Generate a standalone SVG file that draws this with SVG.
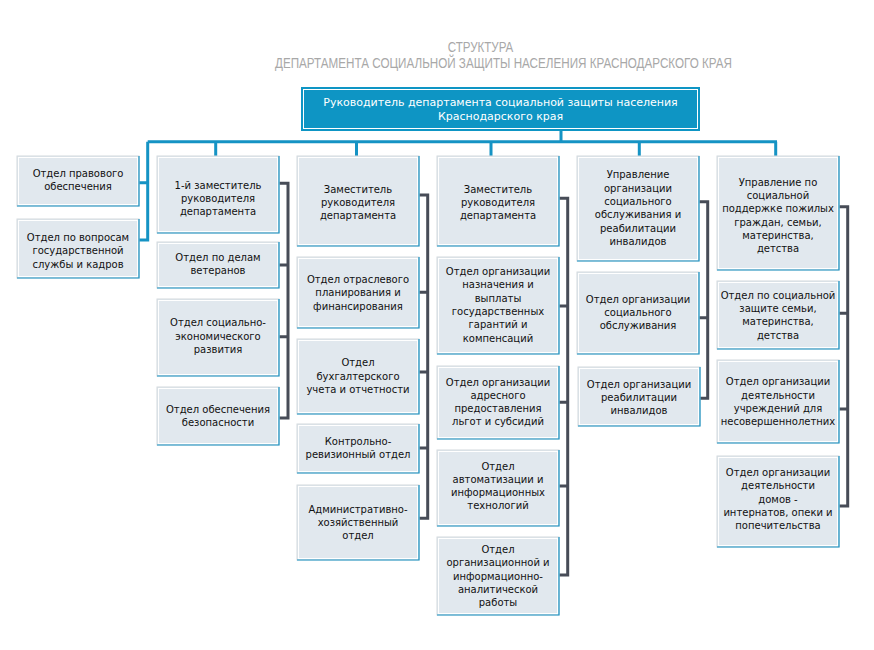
<svg xmlns="http://www.w3.org/2000/svg" width="874" height="650" viewBox="0 0 874 650">
<style>
.bg{fill:#ffffff}
.box{fill:#e1e8ee;stroke:#d3d9de;stroke-width:1}
.inner{fill:none;stroke:#ffffff;stroke-width:1}
.edge{fill:none;stroke:#1a93c4;stroke-width:1.2}
.t{font-family:"DejaVu Sans",Verdana,sans-serif;font-size:10px;fill:#111111;text-anchor:middle}
.top{fill:#0e95c4}
.topin{fill:none;stroke:#ffffff;stroke-width:1}
.tt{font-family:"DejaVu Sans",Verdana,sans-serif;font-size:11px;fill:#ffffff;text-anchor:middle}
.title{font-family:"Liberation Sans",Arial,sans-serif;fill:#a8a8a8;text-anchor:middle}
.blue{fill:none;stroke:#1593c4;stroke-width:3}
.dark{fill:none;stroke:#474c57;stroke-width:3}
</style>
<defs>
<g id="b"></g>
</defs>
<rect class="bg" x="0" y="0" width="874" height="650"/>
<g id="title">
<text class="title" x="480.5" y="51.7" font-size="14" textLength="65.6" lengthAdjust="spacingAndGlyphs">СТРУКТУРА</text>
<text class="title" x="503.5" y="68.3" font-size="15.5" textLength="457" lengthAdjust="spacingAndGlyphs">ДЕПАРТАМЕНТА СОЦИАЛЬНОЙ ЗАЩИТЫ НАСЕЛЕНИЯ КРАСНОДАРСКОГО КРАЯ</text>
</g>
<g id="connectors">
<path class="blue" d="M561,131 V141.7 M147.7,141.7 H777 M215.7,141.7 V156 M356.5,141.7 V156 M491,141.7 V156 M639.3,141.7 V156 M775.7,141.7 V156 M147.7,141.7 V240 H139 M147.7,182.7 H139"/>
<path class="dark" d="M279.3,183.3 H288 V418 H279.3 M279.3,265 H288 M279.3,336.7 H288"/>
<path class="dark" d="M419.3,195 H427.7 V518.3 H419.3 M419.3,292.3 H427.7 M419.3,372 H427.7 M419.3,448 H427.7"/>
<path class="dark" d="M559.3,198.3 H567.7 V575 H559.3 M559.3,306 H567.7 M559.3,402.3 H567.7 M559.3,486 H567.7"/>
<path class="dark" d="M699.3,201.7 H707.7 V398.3 H700 M699.3,317.7 H707.7"/>
<path class="dark" d="M839.3,206.7 H847.7 V506 H839.3 M839.3,313.3 H847.7 M839.3,409 H847.7"/>
</g>
<g id="head">
<rect class="top" x="301" y="87" width="399" height="44"/>
<rect class="topin" x="303.5" y="89.5" width="394" height="39"/>
<text class="tt" x="500.5" y="105.5">Руководитель департамента социальной защиты населения</text>
<text class="tt" x="500.5" y="119.8">Краснодарского края</text>
</g>
<g id="n-legal">
<rect class="box" x="17" y="156" width="122" height="50"/><rect class="inner" x="18.5" y="157.5" width="119" height="47"/><path class="edge" d="M139,156 V206 H17"/>
<text class="t" y="176.9"><tspan x="78">Отдел правового</tspan><tspan x="78" dy="13.3">обеспечения</tspan></text>
</g>
<g id="n-staff">
<rect class="box" x="17" y="219" width="122" height="59"/><rect class="inner" x="18.5" y="220.5" width="119" height="56"/><path class="edge" d="M139,219 V278 H17"/>
<text class="t" y="240.9"><tspan x="78">Отдел по вопросам</tspan><tspan x="78" dy="13.3">государственной</tspan><tspan x="78" dy="13.3">службы и кадров</tspan></text>
</g>
<g id="c1-head">
<rect class="box" x="157" y="156" width="122" height="77"/><rect class="inner" x="158.5" y="157.5" width="119" height="74"/><path class="edge" d="M279,156 V233 H157"/>
<text class="t" y="188.5"><tspan x="218">1-й заместитель</tspan><tspan x="218" dy="13.3">руководителя</tspan><tspan x="218" dy="13.3">департамента</tspan></text>
</g>
<g id="c1-veterans">
<rect class="box" x="157" y="242" width="122" height="46"/><rect class="inner" x="158.5" y="243.5" width="119" height="43"/><path class="edge" d="M279,242 V288 H157"/>
<text class="t" y="260.9"><tspan x="218">Отдел по делам</tspan><tspan x="218" dy="13.3">ветеранов</tspan></text>
</g>
<g id="c1-econ">
<rect class="box" x="157" y="299" width="122" height="77"/><rect class="inner" x="158.5" y="300.5" width="119" height="74"/><path class="edge" d="M279,299 V376 H157"/>
<text class="t" y="326.2"><tspan x="218">Отдел социально-</tspan><tspan x="218" dy="13.3">экономического</tspan><tspan x="218" dy="13.3">развития</tspan></text>
</g>
<g id="c1-security">
<rect class="box" x="157" y="387" width="122" height="58"/><rect class="inner" x="158.5" y="388.5" width="119" height="55"/><path class="edge" d="M279,387 V445 H157"/>
<text class="t" y="412.6"><tspan x="218">Отдел обеспечения</tspan><tspan x="218" dy="13.3">безопасности</tspan></text>
</g>
<g id="c2-head">
<rect class="box" x="297" y="156" width="122" height="90"/><rect class="inner" x="298.5" y="157.5" width="119" height="87"/><path class="edge" d="M419,156 V246 H297"/>
<text class="t" y="192.5"><tspan x="358">Заместитель</tspan><tspan x="358" dy="13.3">руководителя</tspan><tspan x="358" dy="13.3">департамента</tspan></text>
</g>
<g id="c2-plan">
<rect class="box" x="297" y="257" width="122" height="71"/><rect class="inner" x="298.5" y="258.5" width="119" height="68"/><path class="edge" d="M419,257 V328 H297"/>
<text class="t" y="282.9"><tspan x="358">Отдел отраслевого</tspan><tspan x="358" dy="13.3">планирования и</tspan><tspan x="358" dy="13.3">финансирования</tspan></text>
</g>
<g id="c2-acc">
<rect class="box" x="297" y="339" width="122" height="75"/><rect class="inner" x="298.5" y="340.5" width="119" height="72"/><path class="edge" d="M419,339 V414 H297"/>
<text class="t" y="366.2"><tspan x="358">Отдел</tspan><tspan x="358" dy="13.3">бухгалтерского</tspan><tspan x="358" dy="13.3">учета и отчетности</tspan></text>
</g>
<g id="c2-audit">
<rect class="box" x="297" y="424" width="122" height="49"/><rect class="inner" x="298.5" y="425.5" width="119" height="46"/><path class="edge" d="M419,424 V473 H297"/>
<text class="t" y="444.6"><tspan x="358">Контрольно-</tspan><tspan x="358" dy="13.3">ревизионный отдел</tspan></text>
</g>
<g id="c2-admin">
<rect class="box" x="297" y="485" width="122" height="75"/><rect class="inner" x="298.5" y="486.5" width="119" height="72"/><path class="edge" d="M419,485 V560 H297"/>
<text class="t" y="512.5"><tspan x="358">Административно-</tspan><tspan x="358" dy="13.3">хозяйственный</tspan><tspan x="358" dy="13.3">отдел</tspan></text>
</g>
<g id="c3-head">
<rect class="box" x="437" y="156" width="122" height="90"/><rect class="inner" x="438.5" y="157.5" width="119" height="87"/><path class="edge" d="M559,156 V246 H437"/>
<text class="t" y="192.5"><tspan x="498">Заместитель</tspan><tspan x="498" dy="13.3">руководителя</tspan><tspan x="498" dy="13.3">департамента</tspan></text>
</g>
<g id="c3-pay">
<rect class="box" x="437" y="257" width="122" height="97"/><rect class="inner" x="438.5" y="258.5" width="119" height="94"/><path class="edge" d="M559,257 V354 H437"/>
<text class="t" y="275"><tspan x="498">Отдел организации</tspan><tspan x="498" dy="13.3">назначения и</tspan><tspan x="498" dy="13.3">выплаты</tspan><tspan x="498" dy="13.3">государственных</tspan><tspan x="498" dy="13.3">гарантий и</tspan><tspan x="498" dy="13.3">компенсаций</tspan></text>
</g>
<g id="c3-subs">
<rect class="box" x="437" y="366" width="122" height="73"/><rect class="inner" x="438.5" y="367.5" width="119" height="70"/><path class="edge" d="M559,366 V439 H437"/>
<text class="t" y="385.5"><tspan x="498">Отдел организации</tspan><tspan x="498" dy="13.3">адресного</tspan><tspan x="498" dy="13.3">предоставления</tspan><tspan x="498" dy="13.3">льгот и субсидий</tspan></text>
</g>
<g id="c3-it">
<rect class="box" x="437" y="450" width="122" height="76"/><rect class="inner" x="438.5" y="451.5" width="119" height="73"/><path class="edge" d="M559,450 V526 H437"/>
<text class="t" y="469.5"><tspan x="498">Отдел</tspan><tspan x="498" dy="13.3">автоматизации и</tspan><tspan x="498" dy="13.3">информационных</tspan><tspan x="498" dy="13.3">технологий</tspan></text>
</g>
<g id="c3-analytic">
<rect class="box" x="437" y="537" width="122" height="78"/><rect class="inner" x="438.5" y="538.5" width="119" height="75"/><path class="edge" d="M559,537 V615 H437"/>
<text class="t" y="552.9"><tspan x="498">Отдел</tspan><tspan x="498" dy="13.3">организационной и</tspan><tspan x="498" dy="13.3">информационно-</tspan><tspan x="498" dy="13.3">аналитической</tspan><tspan x="498" dy="13.3">работы</tspan></text>
</g>
<g id="c4-head">
<rect class="box" x="577" y="156" width="122" height="105"/><rect class="inner" x="578.5" y="157.5" width="119" height="102"/><path class="edge" d="M699,156 V261 H577"/>
<text class="t" y="178.3"><tspan x="638">Управление</tspan><tspan x="638" dy="13.3">организации</tspan><tspan x="638" dy="13.3">социального</tspan><tspan x="638" dy="13.3">обслуживания и</tspan><tspan x="638" dy="13.3">реабилитации</tspan><tspan x="638" dy="13.3">инвалидов</tspan></text>
</g>
<g id="c4-service">
<rect class="box" x="577" y="272" width="122" height="82"/><rect class="inner" x="578.5" y="273.5" width="119" height="79"/><path class="edge" d="M699,272 V354 H577"/>
<text class="t" y="302.5"><tspan x="638">Отдел организации</tspan><tspan x="638" dy="13.3">социального</tspan><tspan x="638" dy="13.3">обслуживания</tspan></text>
</g>
<g id="c4-rehab">
<rect class="box" x="578" y="367" width="122" height="59"/><rect class="inner" x="579.5" y="368.5" width="119" height="56"/><path class="edge" d="M700,367 V426 H578"/>
<text class="t" y="387.5"><tspan x="639">Отдел организации</tspan><tspan x="639" dy="13.3">реабилитации</tspan><tspan x="639" dy="13.3">инвалидов</tspan></text>
</g>
<g id="c5-head">
<rect class="box" x="717" y="156" width="122" height="114"/><rect class="inner" x="718.5" y="157.5" width="119" height="111"/><path class="edge" d="M839,156 V270 H717"/>
<text class="t" y="185.6"><tspan x="778">Управление по</tspan><tspan x="778" dy="13.3">социальной</tspan><tspan x="778" dy="13.3">поддержке пожилых</tspan><tspan x="778" dy="13.3">граждан, семьи,</tspan><tspan x="778" dy="13.3">материнства,</tspan><tspan x="778" dy="13.3">детства</tspan></text>
</g>
<g id="c5-family">
<rect class="box" x="717" y="281" width="122" height="68"/><rect class="inner" x="718.5" y="282.5" width="119" height="65"/><path class="edge" d="M839,281 V349 H717"/>
<text class="t" y="298.6"><tspan x="778">Отдел по социальной</tspan><tspan x="778" dy="13.3">защите семьи,</tspan><tspan x="778" dy="13.3">материнства,</tspan><tspan x="778" dy="13.3">детства</tspan></text>
</g>
<g id="c5-minors">
<rect class="box" x="717" y="360" width="122" height="83"/><rect class="inner" x="718.5" y="361.5" width="119" height="80"/><path class="edge" d="M839,360 V443 H717"/>
<text class="t" y="385.3"><tspan x="778">Отдел организации</tspan><tspan x="778" dy="13.3">деятельности</tspan><tspan x="778" dy="13.3">учреждений для</tspan><tspan x="778" dy="13.3">несовершеннолетних</tspan></text>
</g>
<g id="c5-homes">
<rect class="box" x="717" y="456" width="122" height="91"/><rect class="inner" x="718.5" y="457.5" width="119" height="88"/><path class="edge" d="M839,456 V547 H717"/>
<text class="t" y="475.9"><tspan x="778">Отдел организации</tspan><tspan x="778" dy="13.3">деятельности</tspan><tspan x="778" dy="13.3">домов -</tspan><tspan x="778" dy="13.3">интернатов, опеки и</tspan><tspan x="778" dy="13.3">попечительства</tspan></text>
</g>
</svg>
